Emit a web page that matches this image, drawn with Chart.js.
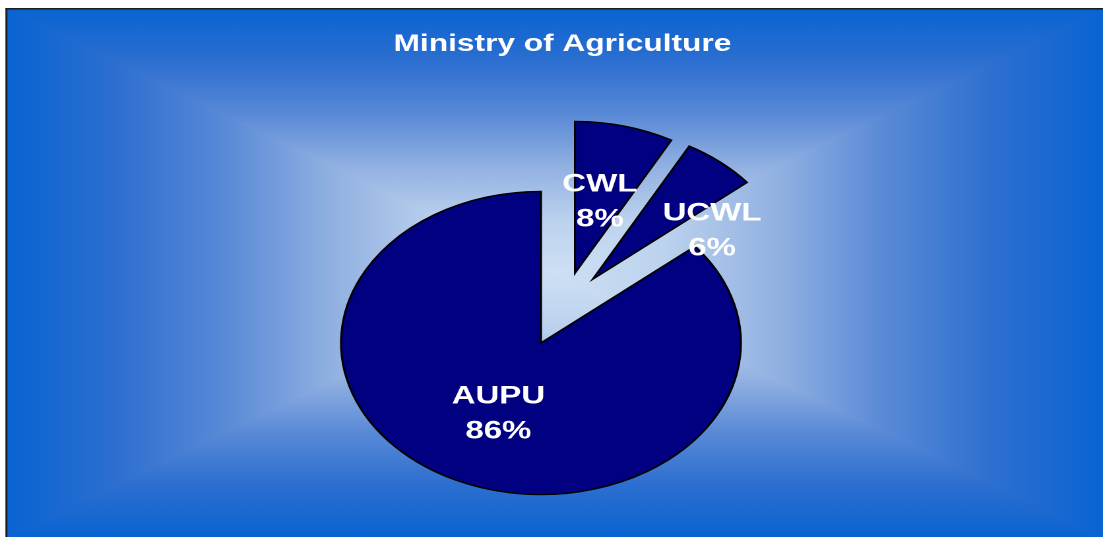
<!DOCTYPE html>
<html>
<head>
<meta charset="utf-8">
<script src="https://cdn.jsdelivr.net/npm/chart.js@4.4.0/dist/chart.umd.min.js"></script>
<style>
html,body{margin:0;padding:0;background:#ffffff;overflow:hidden;width:1103px;height:537px;}
#wrap{position:absolute;left:0;top:0;width:836px;height:537px;transform-origin:0 0;transform:scaleX(1.3194);}
canvas{display:block;}
</style>
</head>
<body>
<div id="wrap"><canvas id="c" width="836" height="537"></canvas></div>
<script>
// ---- data ----
const chartTitle = 'Ministry of Agriculture';
const categories = ['CWL', 'UCWL', 'AUPU'];
const percentages = [8, 6, 86];
const percentLabels = ['8%', '6%', '86%'];

// ---- styles ----
const FONT = '"Liberation Sans", Arial, Helvetica, sans-serif';
const explodeStyle = { dx: [25.8, 39.4, 0], dy: [-70, -64, 0] };
const labelNudge = { dx: [0, 42, 0], dy: [0, 8, 0] };

const backgroundPlugin = {
  id: 'bgFrame',
  beforeDraw(chart) {
    const ctx = chart.ctx;
    const W = chart.width, H = chart.height;
    const x0 = 5.3, y0 = 9.5, x1 = W, y1 = H;
    const cx = (x0 + x1) / 2, cy = (y0 + y1) / 2;
    const stops = [[0, '#0a64d2'], [0.2, '#2d6fd0'], [0.4, '#5a8ad7'], [0.6, '#93b2e2'], [0.8, '#bcd2ee'], [1, '#cde0f4']];
    ctx.save();
    ctx.fillStyle = '#ffffff';
    ctx.fillRect(0, 0, W, H);
    ctx.save();
    ctx.beginPath();
    ctx.rect(x0, y0, x1 - x0, y1 - y0);
    ctx.clip();
    const tri = (pts, gx0, gy0, gx1, gy1) => {
      const g = ctx.createLinearGradient(gx0, gy0, gx1, gy1);
      stops.forEach(s => g.addColorStop(s[0], s[1]));
      ctx.beginPath();
      ctx.moveTo(pts[0][0], pts[0][1]);
      ctx.lineTo(pts[1][0], pts[1][1]);
      ctx.lineTo(pts[2][0], pts[2][1]);
      ctx.closePath();
      ctx.fillStyle = g;
      ctx.fill();
    };
    const e = 1.2; // slight overlap to hide anti-aliasing seams
    // left and right first, then top/bottom drawn slightly wider
    tri([[x0, y0 - 5], [x0, y1 + 5], [cx + e, cy]], x0, 0, cx, 0);
    tri([[x1, y0 - 5], [x1, y1 + 5], [cx - e, cy]], x1, 0, cx, 0);
    tri([[x0 - e * 2, y0], [x1 + e * 2, y0], [cx, cy + e]], 0, y0, 0, cy);
    tri([[x0 - e * 2, y1], [x1 + e * 2, y1], [cx, cy - e]], 0, y1, 0, cy);
    ctx.restore();
    // frame lines (left & top)
    ctx.fillStyle = '#1b1f22';
    ctx.fillRect(x0 - 1.2, y0 - 1.5, 1.5, H);
    ctx.fillRect(x0 - 1.2, y0 - 1.5, W, 1.6);
    // title
    ctx.fillStyle = '#ffffff';
    ctx.font = 'bold 24px ' + FONT;
    ctx.textAlign = 'center';
    ctx.textBaseline = 'alphabetic';
    ctx.fillText(chartTitle, 426.3, 51);
    ctx.restore();
  }
};

const explodePlugin = {
  id: 'explode',
  afterDatasetsUpdate(chart) {
    const meta = chart.getDatasetMeta(0);
    meta.data.forEach((el, i) => {
      el.x += explodeStyle.dx[i];
      el.y += explodeStyle.dy[i];
    });
  }
};

const labelPlugin = {
  id: 'sliceLabels',
  afterDatasetsDraw(chart) {
    const ctx = chart.ctx;
    const meta = chart.getDatasetMeta(0);
    ctx.save();
    ctx.fillStyle = '#ffffff';
    ctx.font = 'bold 25px ' + FONT;
    ctx.textAlign = 'center';
    ctx.textBaseline = 'alphabetic';
    meta.data.forEach((el, i) => {
      const p = el.tooltipPosition();
      const x = p.x + labelNudge.dx[i];
      const y = p.y + labelNudge.dy[i];
      ctx.fillText(categories[i], x, y - 8);
      ctx.fillText(percentLabels[i], x, y + 27);
    });
    ctx.restore();
  }
};

new Chart(document.getElementById('c'), {
  type: 'pie',
  data: {
    labels: categories,
    datasets: [{
      data: percentages,
      backgroundColor: '#000080',
      borderColor: '#000000',
      borderWidth: 1.6,
      borderJoinStyle: 'miter',
      radius: 151.5
    }]
  },
  options: {
    responsive: false,
    animation: false,
    devicePixelRatio: 2,
    events: [],
    layout: { padding: { left: 260, right: 276, top: 190, bottom: 41 } },
    plugins: {
      legend: { display: false },
      tooltip: { enabled: false },
      title: { display: false }
    }
  },
  plugins: [backgroundPlugin, explodePlugin, labelPlugin]
});
</script>
</body>
</html>
